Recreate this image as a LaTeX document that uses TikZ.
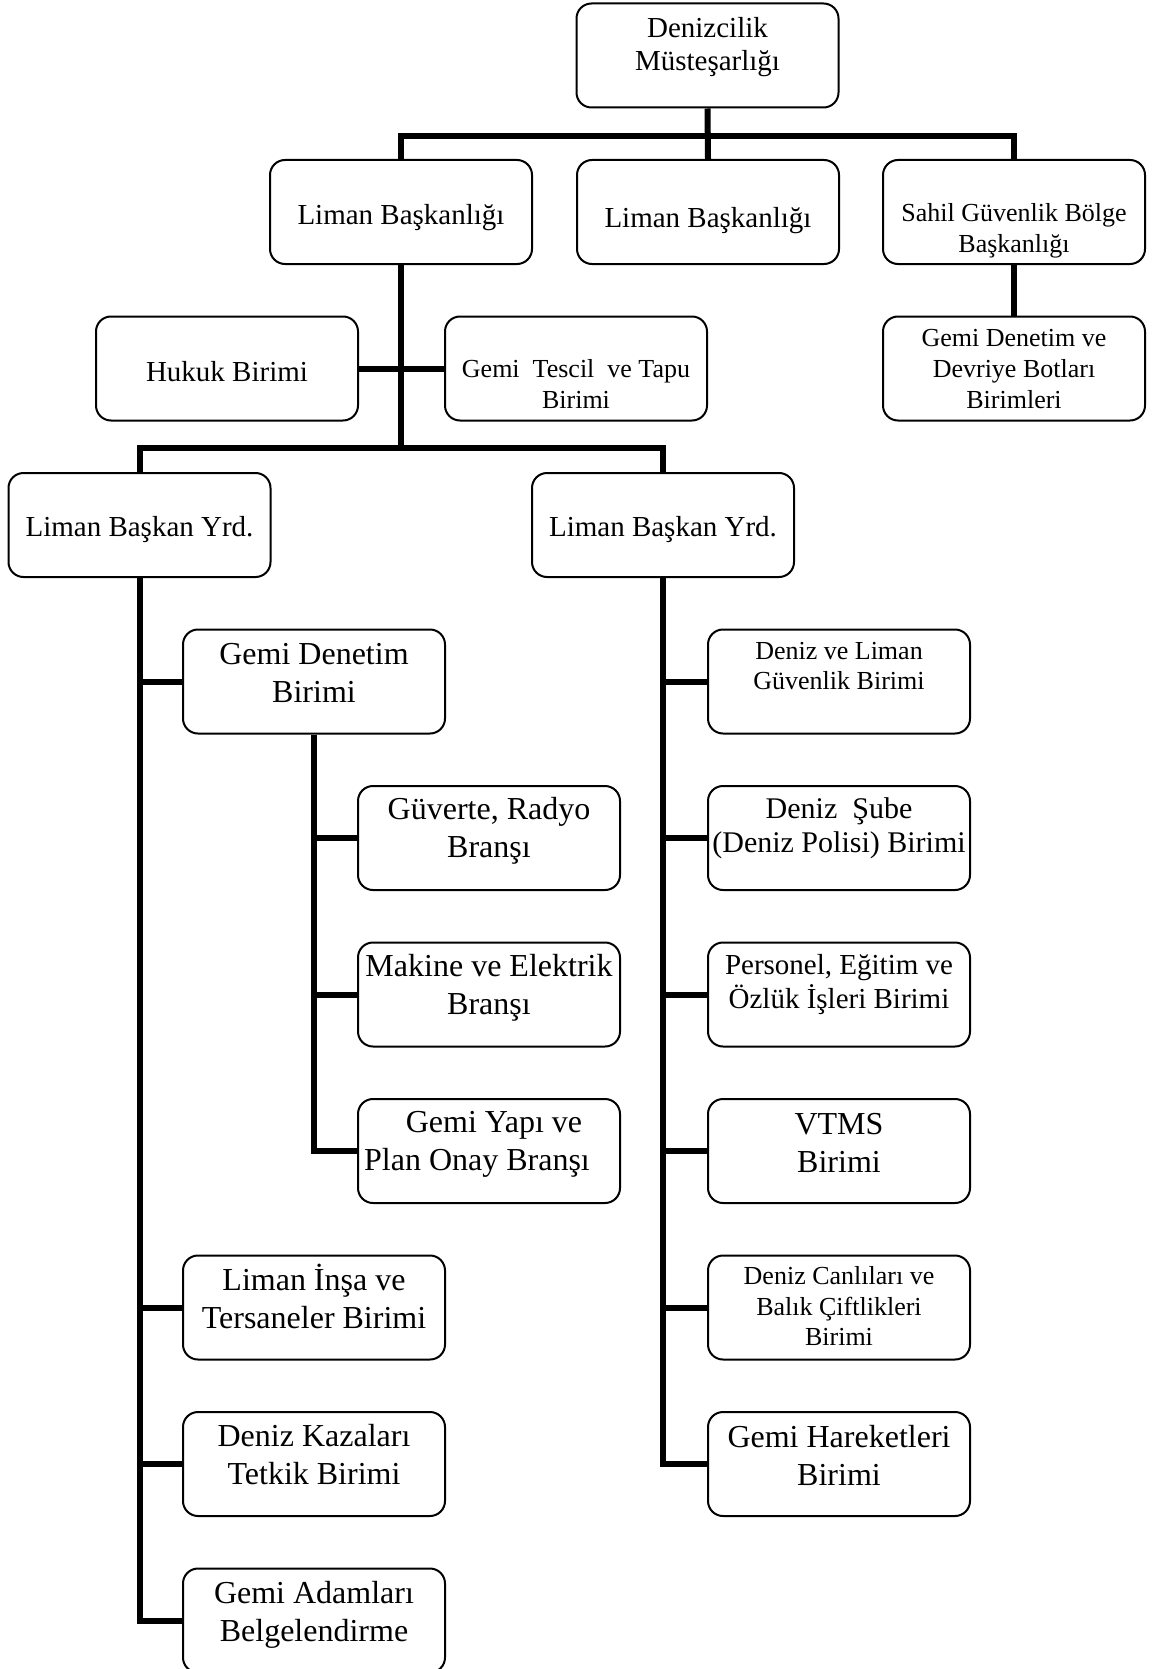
\documentclass[tikz,border=0pt]{standalone}
\usepackage{fontspec}
\setmainfont{Liberation Serif}
\newcommand\szL{\fontsize{16}{19}\selectfont}
\newcommand\szM{\fontsize{14.5}{16.6}\selectfont}
\newcommand\szN{\fontsize{15}{17}\selectfont}
\newcommand\szS{\fontsize{13}{15.4}\selectfont}
\begin{document}
\begin{tikzpicture}[x=0.5pt,y=-0.5pt,
  box/.style={draw=black, line width=1pt, rounded corners=7.5pt, minimum width=131pt, minimum height=52pt, inner sep=0pt},
  lbl/.style={inner sep=0pt, align=center, font=#1},
  conn/.style={line width=3pt}]
\useasboundingbox (0,0) rectangle (1155,1669);
% boxes
\node[box] (den) at (707.5,55.5) {};
\node[box] (lb1) at (401,212) {};
\node[box] (lb2) at (708,212) {};
\node[box] (sgb) at (1014,212) {};
\node[box] (huk) at (227,368.5) {};
\node[box] (tes) at (576,368.5) {};
\node[box] (gdd) at (1014,368.5) {};
\node[box] (yrd1) at (139.5,525) {};
\node[box] (yrd2) at (663,525) {};
\node[box] (gdb) at (314,681.5) {};
\node[box] (guv) at (489,838) {};
\node[box] (mak) at (489,994.5) {};
\node[box] (yap) at (489,1151) {};
\node[box] (ins) at (314,1307.5) {};
\node[box] (kaz) at (314,1464) {};
\node[box] (ada) at (314,1620.5) {};
\node[box] (dlg) at (839,681.5) {};
\node[box] (sub) at (839,838) {};
\node[box] (per) at (839,994.5) {};
\node[box] (vtm) at (839,1151) {};
\node[box] (can) at (839,1307.5) {};
\node[box] (har) at (839,1464) {};
% labels
\node[lbl=\szM] (tden) at (707.5,47) {Denizcilik\\Müsteşarlığı};
\node[lbl=\szM] (tlb1) at (401,218) {Liman Başkanlığı};
\node[lbl=\szM] (tlb2) at (708,221) {Liman Başkanlığı};
\node[lbl=\szS] (tsgb) at (1014,231) {Sahil Güvenlik Bölge\\Başkanlığı};
\node[lbl=\szM] (thuk) at (227,372) {Hukuk Birimi};
\node[lbl=\szS] (ttes) at (576,384) {Gemi\ \ Tescil\ \ ve Tapu\\Birimi};
\node[lbl=\szS] (tgdd) at (1014,369) {Gemi Denetim ve\\Devriye Botları\\Birimleri};
\node[lbl=\szM] (tyrd1) at (139.5,530) {Liman Başkan Yrd.};
\node[lbl=\szM] (tyrd2) at (663,530) {Liman Başkan Yrd.};
\node[lbl=\szL] (tgdb) at (314,673) {Gemi Denetim\\Birimi};
\node[lbl=\szL] (tguv) at (489,831) {Güverte, Radyo\\Branşı};
\node[lbl=\szL] (tmak) at (489,988) {Makine ve Elektrik\\Branşı};
\node[lbl=\szL] (tyap) at (477,1144) {\hspace{17pt}Gemi Yapı ve\\Plan Onay Branşı};
\node[lbl=\szL] (tins) at (314,1296) {Liman İnşa ve\\Tersaneler Birimi};
\node[lbl=\szL] (tkaz) at (314,1455) {Deniz Kazaları\\Tetkik Birimi};
\node[lbl=\szL] (tada) at (314,1615) {Gemi Adamları\\Belgelendirme};
\node[lbl=\szS] (tdlg) at (839,666) {Deniz ve Liman\\Güvenlik Birimi};
\node[lbl=\szN] (tsub) at (839,828) {Deniz\ \ Şube\\(Deniz Polisi) Birimi};
\node[lbl=\szM] (tper) at (839,984.5) {Personel, Eğitim ve\\Özlük İşleri Birimi};
\node[lbl=\szL] (tvtm) at (839,1143) {VTMS\\Birimi};
\node[lbl=\szS] (tcan) at (839,1306) {Deniz Canlıları ve\\Balık Çiftlikleri\\Birimi};
\node[lbl=\szL] (thar) at (839,1455) {Gemi Hareketleri\\Birimi};
% bus coordinates
\coordinate (bus1) at (707.5,136);
\coordinate (bus2) at (401,448);
% connectors
\draw[conn] (den.south) -- (lb2.north);
\draw[conn] (lb1.north) -- (lb1.north |- bus1) -- (sgb.north |- bus1) -- (sgb.north);
\draw[conn] (lb1.south) -- (bus2);
\draw[conn] (yrd1.north) -- (yrd1.north |- bus2) -- (yrd2.north |- bus2) -- (yrd2.north);
\draw[conn] (huk.east) -- (tes.west);
\draw[conn] (sgb.south) -- (gdd.north);
\draw[conn] (yrd1.south) -- (yrd1.south |- ada.west) -- (ada.west);
\draw[conn] (yrd1.south |- gdb.west) -- (gdb.west);
\draw[conn] (yrd1.south |- ins.west) -- (ins.west);
\draw[conn] (yrd1.south |- kaz.west) -- (kaz.west);
\draw[conn] (gdb.south) -- (gdb.south |- yap.west) -- (yap.west);
\draw[conn] (gdb.south |- guv.west) -- (guv.west);
\draw[conn] (gdb.south |- mak.west) -- (mak.west);
\draw[conn] (yrd2.south) -- (yrd2.south |- har.west) -- (har.west);
\draw[conn] (yrd2.south |- dlg.west) -- (dlg.west);
\draw[conn] (yrd2.south |- sub.west) -- (sub.west);
\draw[conn] (yrd2.south |- per.west) -- (per.west);
\draw[conn] (yrd2.south |- vtm.west) -- (vtm.west);
\draw[conn] (yrd2.south |- can.west) -- (can.west);
\end{tikzpicture}
\end{document}
